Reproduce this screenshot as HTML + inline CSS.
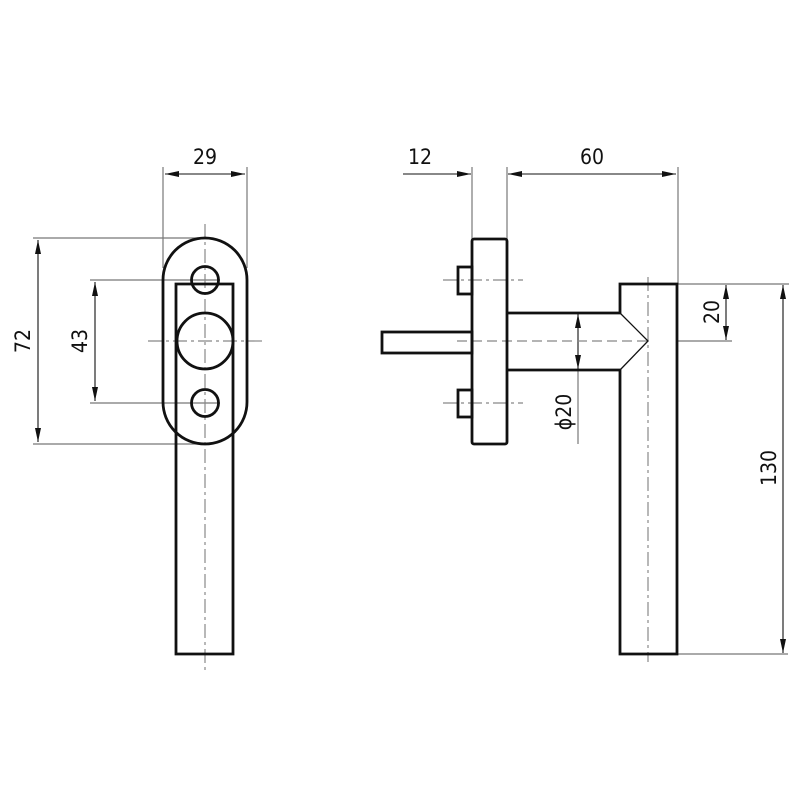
<!DOCTYPE html>
<html><head><meta charset="utf-8"><style>
html,body{margin:0;padding:0;background:#fff;}
svg{display:block;}
text{font-family:"DejaVu Sans Condensed","Liberation Sans Narrow","DejaVu Sans",sans-serif;font-size:21px;fill:#111;}
</style></head><body>
<svg width="800" height="800" viewBox="0 0 800 800" xmlns="http://www.w3.org/2000/svg">
<defs>
<marker id="a" viewBox="0 0 14 6" refX="14" refY="3" markerWidth="14" markerHeight="6" markerUnits="userSpaceOnUse" orient="auto-start-reverse"><path d="M0,0L14,3L0,6z" fill="#111"/></marker>
</defs>
<g stroke="#777" stroke-width="1.2" fill="none">
<line x1="163" y1="167" x2="163" y2="268"/>
<line x1="247" y1="167" x2="247" y2="268"/>
<line x1="33" y1="238" x2="200" y2="238"/>
<line x1="33" y1="444" x2="200" y2="444"/>
<line x1="90" y1="280" x2="220" y2="280"/>
<line x1="90" y1="403" x2="220" y2="403"/>
<line x1="472" y1="167" x2="472" y2="239"/>
<line x1="507" y1="167" x2="507" y2="239"/>
<line x1="678" y1="167" x2="678" y2="284"/>
<line x1="677" y1="284" x2="789" y2="284"/>
<line x1="677" y1="341" x2="732" y2="341"/>
<line x1="677" y1="654" x2="788" y2="654"/>
<line x1="578" y1="370" x2="578" y2="444"/>
</g>
<g stroke="#111" stroke-width="1.1" fill="none">
<line x1="165" y1="174" x2="245" y2="174" marker-start="url(#a)" marker-end="url(#a)"/>
<line x1="38" y1="240" x2="38" y2="442" marker-start="url(#a)" marker-end="url(#a)"/>
<line x1="95" y1="282" x2="95" y2="401" marker-start="url(#a)" marker-end="url(#a)"/>
<line x1="403" y1="174" x2="471" y2="174" marker-end="url(#a)"/>
<line x1="508" y1="174" x2="676" y2="174" marker-start="url(#a)" marker-end="url(#a)"/>
<line x1="726" y1="285" x2="726" y2="340" marker-start="url(#a)" marker-end="url(#a)"/>
<line x1="783" y1="285" x2="783" y2="653" marker-start="url(#a)" marker-end="url(#a)"/>
<line x1="578" y1="314" x2="578" y2="369" marker-start="url(#a)" marker-end="url(#a)"/>
</g>
<g stroke="#888" stroke-width="1.2" fill="none" stroke-dasharray="14,4,3,4">
<line x1="205" y1="224" x2="205" y2="670"/>
<line x1="148" y1="341" x2="262" y2="341"/>
<line x1="443" y1="280" x2="523" y2="280"/>
<line x1="443" y1="403" x2="523" y2="403"/>
<line x1="648" y1="277" x2="648" y2="662"/>
</g>
<line x1="457" y1="341" x2="648" y2="341" stroke="#888" stroke-width="1.2" stroke-dasharray="10,5"/>
<g stroke="#111" stroke-width="2.8" fill="none" stroke-linejoin="miter">
<rect x="163" y="238" width="84" height="206" rx="42" ry="42"/>
<path d="M176,654V284H233V654Z"/>
<circle cx="205" cy="280" r="13.5"/>
<circle cx="205" cy="403" r="13.5"/>
<circle cx="205" cy="341" r="28"/>
<rect x="472" y="239" width="35" height="205" rx="2"/>
<rect x="458" y="267" width="14" height="27"/>
<rect x="458" y="390" width="14" height="27"/>
<rect x="382" y="332" width="90" height="21"/>
<path d="M507,313H620V284H677V654H620V370H507"/>
</g>
<path d="M620,313L648,341L620,370" stroke="#111" stroke-width="1.3" fill="none"/>
<text x="205" y="164" text-anchor="middle">29</text>
<text x="420" y="164" text-anchor="middle">12</text>
<text x="592" y="164" text-anchor="middle">60</text>
<text transform="translate(30,341) rotate(-90)" text-anchor="middle">72</text>
<text transform="translate(87,341) rotate(-90)" text-anchor="middle">43</text>
<text transform="translate(719,312) rotate(-90)" text-anchor="middle">20</text>
<text transform="translate(776,468) rotate(-90)" text-anchor="middle">130</text>
<text transform="translate(571,412) rotate(-90)" text-anchor="middle">ϕ20</text>
</svg>
</body></html>
